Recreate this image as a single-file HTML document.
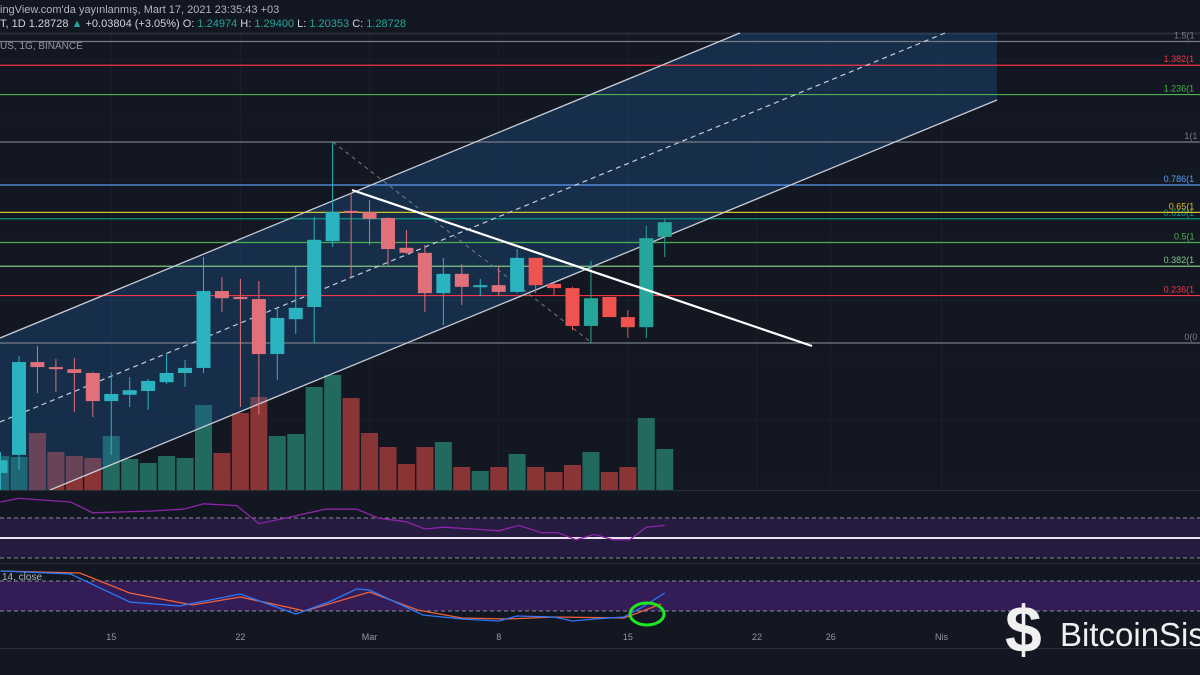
<!DOCTYPE html>
<html><head><meta charset="utf-8"><style>
html,body{margin:0;padding:0;background:#131722;}
#wrap{position:relative;width:1200px;height:675px;overflow:hidden;background:#131722;font-family:"Liberation Sans","DejaVu Sans",sans-serif;}
svg{position:absolute;left:0;top:0;}
</style></head><body>
<div id="wrap">
<svg id="c" width="1200" height="675" xmlns="http://www.w3.org/2000/svg"></svg>
</div>
<script>
const opens=[0.690,0.733,0.954,0.942,0.937,0.928,0.861,0.876,0.885,0.906,0.928,0.940,1.123,1.109,1.104,0.973,1.056,1.085,1.242,1.314,1.311,1.297,1.226,1.214,1.118,1.164,1.135,1.137,1.121,1.202,1.140,1.130,1.040,1.109,1.061,1.037,1.252];
const highs=[0.740,0.968,0.992,0.961,0.964,0.930,0.930,0.918,0.914,0.973,0.959,1.204,1.156,1.152,1.147,1.083,1.180,1.299,1.478,1.356,1.340,1.299,1.268,1.233,1.202,1.187,1.152,1.180,1.223,1.202,1.142,1.133,1.195,1.109,1.078,1.278,1.295];
const lows=[0.650,0.697,0.880,0.883,0.835,0.823,0.733,0.847,0.840,0.902,0.895,0.928,1.073,0.847,0.828,0.911,1.021,0.999,1.228,1.156,1.233,1.185,1.211,1.073,1.042,1.090,1.111,1.111,1.118,1.118,1.111,1.030,0.999,1.061,1.011,1.011,1.204];
const closes=[0.720,0.954,0.942,0.937,0.928,0.861,0.878,0.887,0.909,0.928,0.940,1.123,1.106,1.104,0.973,1.059,1.083,1.245,1.311,1.309,1.295,1.223,1.214,1.118,1.164,1.133,1.137,1.121,1.202,1.137,1.130,1.040,1.106,1.061,1.037,1.249,1.287];
const volumes=[34,33,57,38,34,32,54,31,27,34,32,85,37,77,93,54,56,103,115,92,57,43,26,43,48,23,19,23,36,23,18,25,38,18,23,72,41];
const fibRatios=[0,0.236,0.382,0.5,0.618,0.65,0.786,1,1.236,1.382,1.5];
const fibLabels=["0(0","0.236(1","0.382(1","0.5(1","0.618(1","0.65(1","0.786(1","1(1","1.236(1","1.382(1","1.5(1"];
const fibColors=["#787b86","#f23645","#81c784","#4caf50","#089981","#d4c02a","#5b9cf6","#787b86","#4caf50","#f23645","#787b86"];
const rsiVals=[70,72,70,64,65,66,69,68,58,61,66,66,61,59,55,56,55,54,57,53,53,49,52,49,49,56,57];
const rsiIdx=[-1,0,2.8,4,7.2,8.9,10,11.8,13,14.4,16.6,18.3,19.5,21,22,23,24.6,26,27.1,28.3,29.2,30.2,31.2,32.2,33.1,34,35];
const stochK=[100,94,38,30,54,14,38,64,62,12,4,0,10,8,0,4,8,28,56];
const stochKIdx=[-1,2.8,6,8.7,12,15,16.8,18.3,19,21.9,24,26,27,29,30,31.2,32.8,33.8,35];
const stochD=[100,96,56,32,48,20,58,22,6,4,8,6,34];
const stochDIdx=[-1,3.3,6,9.4,12,15.5,19,21.6,24,26.5,29,32.8,34.8];
const xLabels=["15","22","Mar","8","15","22","26","Nis"];
const xLabelIdx=[6,13,20,27,34,41,45,51];

const svg=document.getElementById('c');
const NS='http://www.w3.org/2000/svg';
function mk(tag,attrs,parent){const e=document.createElementNS(NS,tag);for(const k in attrs)e.setAttribute(k,attrs[k]);(parent||svg).appendChild(e);return e;}
const xOf=i=>19+18.45*(i-1);
const xIdx=d=>19+18.45*d;
const yP=p=>(1.816-p)*420;
const yV=v=>490-v;
const fibY=r=>343+(142-343)*r;
const yRsi=v=>538-(v-50)*1.8;
const ySt=v=>611-(v-20)*0.5;

// grid
const grid=mk('g',{});

[60,120,180,240,300,360,420,480].forEach(y=>mk('line',{x1:0,x2:1200,y1:y,y2:y,stroke:'#1b1f2b','stroke-width':1},grid));
xLabelIdx.forEach(i=>{const x=xOf(i);mk('line',{x1:x,x2:x,y1:34,y2:648,stroke:'#1b1f2b','stroke-width':1},grid);});

// header
mk('rect',{x:0,y:0,width:1200,height:33,fill:'#131722'});
mk('line',{x1:0,x2:1200,y1:33.5,y2:33.5,stroke:'#2a2e39','stroke-width':2});
const h1=mk('text',{x:0,y:13,fill:'#b2b5be','font-size':11});h1.textContent="ingView.com'da yayınlanmış, Mart 17, 2021 23:35:43 +03";

const h2=mk('text',{x:0,y:27,fill:'#d1d4dc','font-size':11});

h2.innerHTML='T, 1D  1.28728 <tspan fill="#26a69a">▲</tspan> +0.03804 (+3.05%) O: <tspan fill="#26a69a">1.24974</tspan> H: <tspan fill="#26a69a">1.29400</tspan> L: <tspan fill="#26a69a">1.20353</tspan> C: <tspan fill="#26a69a">1.28728</tspan>';
const h3=mk('text',{x:0,y:49,fill:'#9598a1','font-size':10});h3.textContent="US, 1G, BINANCE";


// volumes
const vg=mk('g',{});
volumes.forEach((v,i)=>{const up=closes[i]>=opens[i];const x=xOf(i);
 const r=mk('rect',{x:x-8.5,y:yV(v),width:17,height:v,fill:up?'#22695f':'#8a3535'},vg);
 });

// channel fill
const ch=mk('polygon',{points:'0,338 740,33 997,33 997,100 50,490 0,490',fill:'rgba(30,100,170,0.3)'});


// fib levels
fibRatios.forEach((r,i)=>{const y=fibY(r);
 const l=mk('line',{x1:0,x2:1200,y1:y,y2:y,stroke:fibColors[i],'stroke-width':1.2});
 
 const t=mk('text',{x:1200-fibLabels[i].length*5.2,y:y-3,fill:fibColors[i],'font-size':9});t.textContent=fibLabels[i];
 });

// channel lines
const cu=mk('line',{x1:0,y1:338,x2:740,y2:33,stroke:'#c9ccd6','stroke-width':1.3});
const cl=mk('line',{x1:50,y1:490,x2:997,y2:100,stroke:'#c9ccd6','stroke-width':1.3});
const cm=mk('line',{x1:0,y1:422,x2:945,y2:33,stroke:'#c9ccd6','stroke-width':1.2,'stroke-dasharray':'5,4'});
const fd=mk('line',{x1:333,y1:142,x2:592,y2:343,stroke:'#787b86','stroke-width':1,'stroke-dasharray':'4,4'});

// candles
const cg=mk('g',{});
opens.forEach((o,i)=>{const c=closes[i];const up=c>=o;const x=xOf(i);
 const col=up?(i>=31?'#26a69a':'#2bb3c0'):(i>=29?'#ef5350':'#e0707a');
 const w=mk('line',{x1:x,x2:x,y1:yP(highs[i]),y2:yP(lows[i]),stroke:col,'stroke-width':1},cg);
 
 const t=Math.min(yP(o),yP(c)),h=Math.max(2,Math.abs(yP(o)-yP(c)));
 const b=mk('rect',{x:x-7,y:t,width:14,height:h,fill:col},cg);
 });

// downtrend
const dt=mk('line',{x1:352,y1:190,x2:812,y2:346,stroke:'#ffffff','stroke-width':2.2});

// panes
mk('rect',{x:0,y:490,width:1200,height:158,fill:'#131722'});
mk('line',{x1:0,x2:1200,y1:490.5,y2:490.5,stroke:'#2a2e39','stroke-width':1});
// RSI
mk('rect',{x:0,y:518,width:1200,height:40,fill:'#261c40'});
[518,558].forEach(y=>mk('line',{x1:0,x2:1200,y1:y,y2:y,stroke:'#8a8d98','stroke-width':1,'stroke-dasharray':'4,3'}));
const wl=mk('line',{x1:0,x2:1200,y1:538,y2:538,stroke:'#e8e8ee','stroke-width':2});
const rp=mk('polyline',{fill:'none',stroke:'#8e24aa','stroke-width':1.3,points:rsiVals.map((v,i)=>xIdx(rsiIdx[i])+','+yRsi(v)).join(' ')});

mk('line',{x1:0,x2:1200,y1:563.5,y2:563.5,stroke:'#2a2e39','stroke-width':1});
// Stoch
mk('rect',{x:0,y:581,width:1200,height:30,fill:'#341d56'});
[581,611].forEach(y=>mk('line',{x1:0,x2:1200,y1:y,y2:y,stroke:'#8a8d98','stroke-width':1,'stroke-dasharray':'4,3'}));
const sl=mk('text',{x:2,y:580,fill:'#b2b5be','font-size':10});sl.textContent="14, close";

const kd=mk('polyline',{fill:'none',stroke:'#f0623a','stroke-width':1.3,points:stochD.map((v,i)=>xIdx(stochDIdx[i])+','+ySt(v)).join(' ')});

const kk=mk('polyline',{fill:'none',stroke:'#2979ff','stroke-width':1.3,points:stochK.map((v,i)=>xIdx(stochKIdx[i])+','+ySt(v)).join(' ')});

const el=mk('ellipse',{cx:647,cy:614,rx:17,ry:11,fill:'none',stroke:'#1ee81e','stroke-width':3});


// x axis
mk('line',{x1:0,x2:1200,y1:648.5,y2:648.5,stroke:'#2a2e39','stroke-width':1});
xLabels.forEach((s,i)=>{const t=mk('text',{x:xOf(xLabelIdx[i]),y:640,fill:'#9598a1','font-size':9,'text-anchor':'middle'});t.textContent=s;
 });

// logo
const lg=mk('g',{});
mk('text',{x:1005,y:652,fill:'#f0f0f0','font-size':66,'font-weight':'bold'},lg).textContent="$";
const lt=mk('text',{x:1060,y:646,fill:'#f0f0f0','font-size':33},lg);lt.textContent="BitcoinSis";
</script>
</body></html>
